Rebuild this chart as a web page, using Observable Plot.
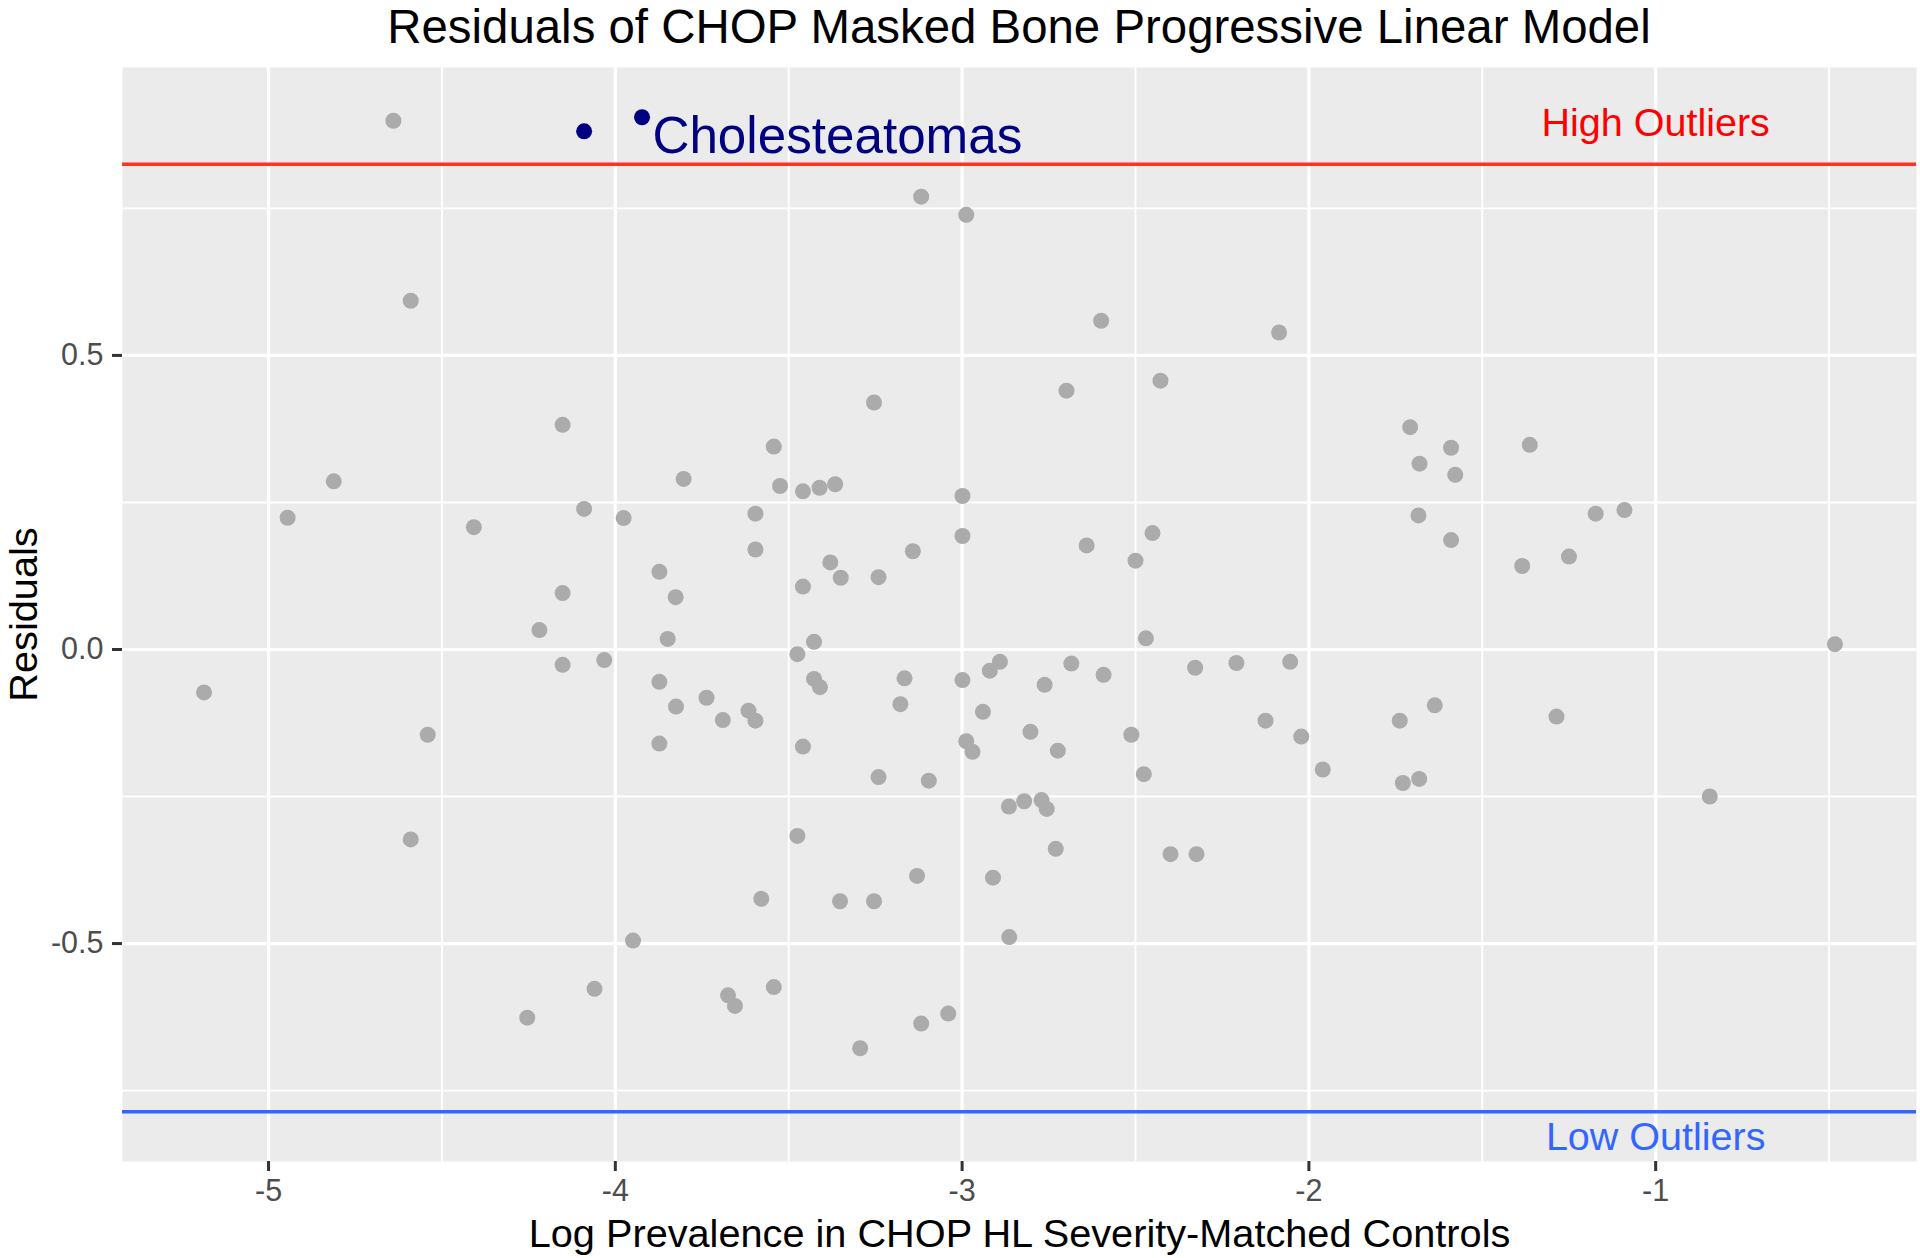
<!DOCTYPE html>
<html>
<head>
<meta charset="utf-8">
<script src="https://cdn.jsdelivr.net/npm/d3@7"></script>
<script src="https://cdn.jsdelivr.net/npm/@observablehq/plot@0.6"></script>
<style>
html, body { margin: 0; padding: 0; background: #ffffff; }
#title {
  box-sizing: border-box; width: 1920px; height: 53px; line-height: 53.2px;
  padding-left: 122px; padding-right: 4px; text-align: center;
  font-family: "Liberation Sans", Arial, Helvetica, sans-serif;
  font-size: 47.4px; color: #000; white-space: nowrap; overflow: visible;
}
</style>
</head>
<body>
<div id="title">Residuals of CHOP Masked Bone Progressive Linear Model</div>
<div id="chart"></div>
<script>
// Log prevalence (x) and residuals (y) of the gray points
const logPrevalence = [
  -4.640, -4.590, -4.152, -4.812, -3.803, -4.945, -4.408, -4.090, -3.976, -3.873, -4.152, -3.826,
  -3.118, -2.988, -2.599, -2.086, -2.699, -2.428, -3.254, -3.543, -3.525, -3.459, -3.411, -3.366,
  -2.999, -3.596, -3.596, -2.999, -3.380, -3.350, -3.459, -3.241, -3.142, -2.641, -2.451, -2.500,
  -1.708, -1.590, -1.363, -1.681, -1.578, -1.684, -1.590, -1.173, -1.090, -1.250, -1.385,
  -4.219, -3.849, -4.152, -4.032, -5.186, -3.873, -3.825, -3.737, -3.873, -4.541, -4.590, -3.949,
  -4.060, -4.254,
  -3.690, -3.616, -3.596, -3.475, -3.427, -3.427, -3.410, -3.459, -3.166, -3.178, -3.241, -3.096,
  -2.999, -2.920, -2.891, -2.940, -2.988, -2.970, -2.762, -2.685, -2.592, -2.803, -2.724, -2.865,
  -2.821, -2.771, -2.756, -2.730, -3.475, -2.911, -3.130, -3.579, -3.352, -3.254, -2.864, -2.470,
  -2.328, -2.209, -2.054, -2.512, -2.476, -2.125, -2.022, -2.399, -2.324, -3.675, -3.655, -3.543,
  -3.118, -3.040, -3.294,
  -1.960, -1.637, -1.738, -1.286, -1.729, -1.682, -0.844, -0.483
];
const residuals = [
  0.899, 0.593, 0.382, 0.286, 0.290, 0.224, 0.208, 0.239, 0.2235, 0.132, 0.096, 0.089,
  0.770, 0.739, 0.559, 0.539, 0.440, 0.457, 0.420, 0.345, 0.278, 0.269, 0.275, 0.281,
  0.261, 0.231, 0.170, 0.193, 0.148, 0.122, 0.107, 0.123, 0.167, 0.177, 0.198, 0.151,
  0.378, 0.343, 0.348, 0.316, 0.297, 0.228, 0.186, 0.231, 0.237, 0.158, 0.142,
  0.033, 0.018, -0.026, -0.018, -0.073, -0.055, -0.097, -0.082, -0.160, -0.145, -0.323, -0.495,
  -0.577, -0.626,
  -0.120, -0.104, -0.121, -0.008, 0.013, -0.050, -0.064, -0.165, -0.049, -0.093, -0.217, -0.223,
  -0.052, -0.036, -0.021, -0.106, -0.156, -0.174, -0.060, -0.024, -0.043, -0.140, -0.172, -0.267,
  -0.258, -0.256, -0.271, -0.339, -0.317, -0.388, -0.385, -0.424, -0.428, -0.428, -0.489, 0.019,
  -0.031, -0.023, -0.021, -0.145, -0.212, -0.121, -0.148, -0.348, -0.348, -0.588, -0.606, -0.574,
  -0.636, -0.619, -0.678,
  -0.204, -0.095, -0.121, -0.114, -0.227, -0.220, -0.250, 0.009
];
// Highlighted cholesteatoma points
const cholLogPrevalence = [-4.090, -3.923];
const cholResiduals = [0.881, 0.905];
// Outlier cut-offs
const highCutoff = [0.825];
const lowCutoff = [-0.786];
// Ticks
const xTicks = [-5, -4, -3, -2, -1];
const xMinor = [-4.5, -3.5, -2.5, -1.5, -0.5];
const yTicks = [-0.5, 0, 0.5];
const yMinor = [-0.75, -0.25, 0.25, 0.75];

const points = logPrevalence.map((x, i) => ({x, y: residuals[i]}));
const chol = cholLogPrevalence.map((x, i) => ({x, y: cholResiduals[i]}));

function expand(vals) {
  const lo = d3.min(vals), hi = d3.max(vals), p = (hi - lo) * 0.05;
  return [lo - p, hi + p];
}
const xDomain = expand(logPrevalence.concat(cholLogPrevalence));
const yDomain = expand(residuals.concat(cholResiduals, highCutoff, lowCutoff));

const FONT = '"Liberation Sans", Arial, Helvetica, sans-serif';

const chart = Plot.plot({
  width: 1920,
  height: 1205,
  marginTop: 14,
  marginBottom: 97,
  marginLeft: 122,
  marginRight: 4,
  style: {fontFamily: FONT, background: "#ffffff", overflow: "visible"},
  x: {domain: xDomain},
  y: {domain: yDomain},
  marks: [
    Plot.frame({fill: "#EBEBEB", stroke: null}),
    Plot.gridX(xMinor, {stroke: "#ffffff", strokeOpacity: 1, strokeWidth: 1.9}),
    Plot.gridY(yMinor, {stroke: "#ffffff", strokeOpacity: 1, strokeWidth: 1.9}),
    Plot.gridX(xTicks, {stroke: "#ffffff", strokeOpacity: 1, strokeWidth: 3.2}),
    Plot.gridY(yTicks, {stroke: "#ffffff", strokeOpacity: 1, strokeWidth: 3.2}),
    Plot.axisX({ticks: xTicks, tickSize: 10, tickPadding: 8, fontSize: 30.5,
      stroke: "#333333", strokeWidth: 3, fill: "#4D4D4D", tickFormat: d => String(d), label: null}),
    Plot.axisY({ticks: yTicks, tickSize: 10, tickPadding: 9, fontSize: 30.5,
      stroke: "#333333", strokeWidth: 3, fill: "#4D4D4D", tickFormat: d => d.toFixed(1), label: null}),
    Plot.ruleY(highCutoff, {stroke: "#FF3322", strokeWidth: 3.4}),
    Plot.ruleY(lowCutoff, {stroke: "#3366FF", strokeWidth: 3.4}),
    Plot.dot(points, {x: "x", y: "y", r: 8, fill: "#ABABAB", stroke: null}),
    Plot.dot(chol, {x: "x", y: "y", r: 8, fill: "#000080", stroke: null}),
    Plot.text([{x: -3.893, y: 0.845, t: "Cholesteatomas"}], {x: "x", y: "y", text: "t",
      textAnchor: "start", lineAnchor: "bottom", fontSize: 51.2, fill: "#000080"}),
    Plot.text([{x: -1, y: 0.873, t: "High Outliers"}], {x: "x", y: "y", text: "t",
      lineAnchor: "bottom", fontSize: 39.5, fill: "#FF0000"}),
    Plot.text([{x: -1, y: -0.851, t: "Low Outliers"}], {x: "x", y: "y", text: "t",
      lineAnchor: "bottom", fontSize: 39.5, fill: "#3366FF"}),
    Plot.text(["Log Prevalence in CHOP HL Severity-Matched Controls"], {frameAnchor: "bottom",
      textAnchor: "middle", dy: 85, lineAnchor: "bottom", fontSize: 39.7, fill: "#000000"}),
    Plot.text(["Residuals"], {frameAnchor: "left", textAnchor: "middle", rotate: -90, dx: -86,
      lineAnchor: "bottom", fontSize: 39.7, fill: "#000000"})
  ]
});
document.getElementById("chart").appendChild(chart);
</script>
</body>
</html>
